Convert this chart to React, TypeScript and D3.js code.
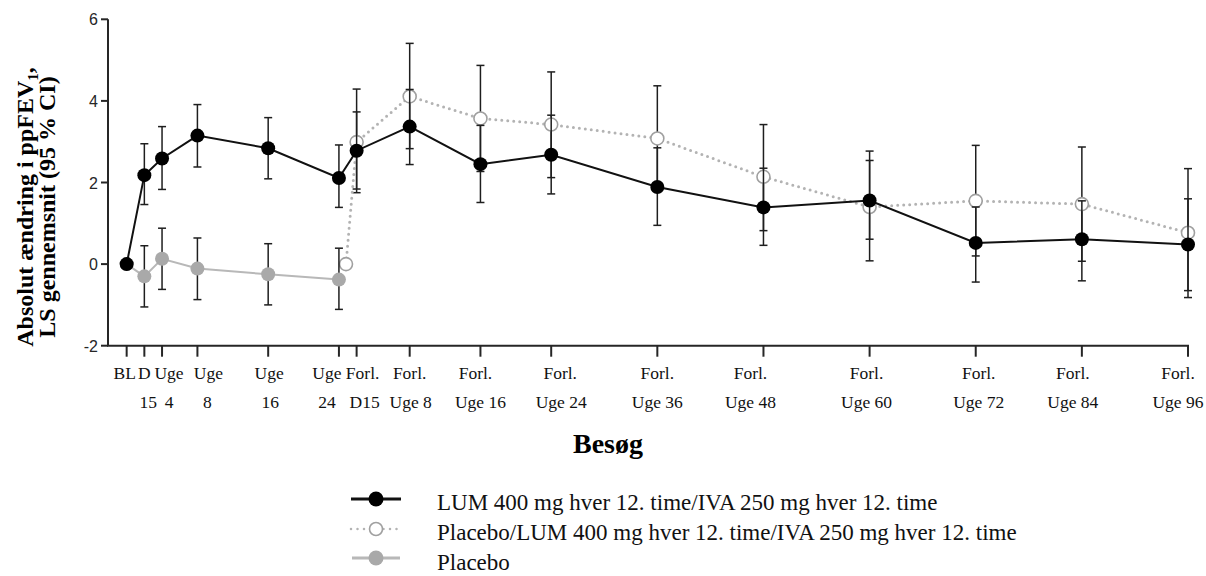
import React from "react";
import * as d3 from "d3";

// ---------- data ----------
const visitWeeks = [0, 2, 4, 8, 16, 24, 26, 32, 40, 48, 60, 72, 84, 96, 108, 120];
const tickLine1 = ["BL", "D", "Uge", "Uge", "Uge", "Uge", "Forl.", "Forl.", "Forl.", "Forl.", "Forl.", "Forl.", "Forl.", "Forl.", "Forl.", "Forl."];
const tickLine2 = ["", "15", "4", "8", "16", "24", "D15", "Uge 8", "Uge 16", "Uge 24", "Uge 36", "Uge 48", "Uge 60", "Uge 72", "Uge 84", "Uge 96"];
const yTicks = [-2, 0, 2, 4, 6];

const lumWeeks = visitWeeks;
const lumMean = [0, 2.18, 2.59, 3.15, 2.84, 2.11, 2.78, 3.37, 2.45, 2.68, 1.89, 1.39, 1.56, 0.52, 0.61, 0.48];
const lumLower = [null, 1.46, 1.83, 2.38, 2.09, 1.39, 1.84, 2.44, 1.51, 1.72, 0.95, 0.46, 0.61, -0.44, -0.41, -0.65];
const lumUpper = [null, 2.95, 3.37, 3.91, 3.59, 2.92, 3.73, 4.28, 3.40, 3.65, 2.85, 2.35, 2.54, 1.40, 1.55, 1.60];

const pboWeeks = [0, 2, 4, 8, 16, 24];
const pboMean = [0, -0.30, 0.13, -0.11, -0.25, -0.38];
const pboLower = [null, -1.05, -0.62, -0.87, -1.00, -1.11];
const pboUpper = [null, 0.45, 0.88, 0.64, 0.50, 0.39];

const swWeeks = [24.8, 26, 32, 40, 48, 60, 72, 84, 96, 108, 120];
const swMean = [0, 2.99, 4.11, 3.57, 3.42, 3.08, 2.14, 1.40, 1.55, 1.47, 0.77];
const swLower = [null, 1.75, 2.83, 2.27, 2.12, 1.78, 0.82, 0.08, 0.20, 0.07, -0.82];
const swUpper = [null, 4.29, 5.41, 4.87, 4.71, 4.37, 3.42, 2.77, 2.91, 2.87, 2.34];

const legendLabels = [
  "LUM 400 mg hver 12. time/IVA 250 mg hver 12. time",
  "Placebo/LUM 400 mg hver 12. time/IVA 250 mg hver 12. time",
  "Placebo",
];

// ---------- layout ----------
const W = 1206;
const H = 576;
const X0 = 108;
const X1 = 1188;
const Y0 = 345.7;
const Y1 = 19.3;
const labelDx1 = [-2, 0, 7, 11, 1, -12, 6, 0, -5, 9, 0, -13, -3, 3, -9, -10];
const labelDx2 = [0, 4, 7, 10, 2, -12, 8, 1, 0, 10, 0, -13, -3, 3, -9, -10];

const serif = "'Liberation Serif', 'Times New Roman', serif";
const sans = "'Liberation Sans', Arial, sans-serif";
const AXIS = "#262626";
const BAR = "#1e1e1e";

const x = d3.scaleLinear().domain([-2.11, 120]).range([X0, X1]);
const y = d3.scaleLinear().domain([-2, 6]).range([Y0, Y1]);

type Pt = { w: number; m: number; lo: number | null; hi: number | null };
const zip = (ws: number[], m: number[], lo: (number | null)[], hi: (number | null)[]): Pt[] =>
  ws.map((w, i) => ({ w, m: m[i], lo: lo[i], hi: hi[i] }));

const lum = zip(lumWeeks, lumMean, lumLower, lumUpper);
const pbo = zip(pboWeeks, pboMean, pboLower, pboUpper);
const sw = zip(swWeeks, swMean, swLower, swUpper);

const line = d3
  .line<Pt>()
  .x((d) => x(d.w))
  .y((d) => y(d.m));

function ErrorBars({ data }: { data: Pt[] }) {
  return (
    <g stroke={BAR} strokeWidth={1.5} fill="none">
      {data
        .filter((d) => d.lo !== null && d.hi !== null)
        .map((d, i) => {
          const cx = x(d.w);
          const yl = y(d.lo as number);
          const yh = y(d.hi as number);
          return (
            <g key={i}>
              <line x1={cx} x2={cx} y1={yh} y2={yl} />
              <line x1={cx - 4} x2={cx + 4} y1={yh} y2={yh} />
              <line x1={cx - 4} x2={cx + 4} y1={yl} y2={yl} />
            </g>
          );
        })}
    </g>
  );
}

export default function App() {
  return (
    <svg
      width={W}
      height={H}
      viewBox={`0 0 ${W} ${H}`}
      style={{ position: "fixed", left: 0, top: 0, background: "#fff" }}
    >
      <rect width={W} height={H} fill="#fff" />

      {/* axes */}
      <g stroke={AXIS} strokeWidth={2} fill="none">
        <line x1={X0} x2={X0} y1={Y1} y2={Y0} />
        <line x1={X0 - 1} x2={X1 + 1} y1={Y0} y2={Y0} />
        {yTicks.map((t) => (
          <line key={t} x1={X0 - 7} x2={X0} y1={y(t)} y2={y(t)} />
        ))}
        {visitWeeks.map((w, i) => (
          <line key={i} x1={x(w)} x2={x(w)} y1={Y0} y2={Y0 + 11} />
        ))}
      </g>
      <g fontFamily={sans} fontSize={16} fill={AXIS} textAnchor="end">
        {yTicks.map((t) => (
          <text key={t} x={X0 - 10} y={y(t) + 6}>
            {t}
          </text>
        ))}
      </g>
      <g fontFamily={serif} fontSize={17.5} fill="#111" textAnchor="middle">
        {visitWeeks.map((w, i) => (
          <g key={i}>
            <text x={x(w) + labelDx1[i]} y={379}>
              {tickLine1[i]}
            </text>
            <text x={x(w) + labelDx2[i]} y={408}>
              {tickLine2[i]}
            </text>
          </g>
        ))}
      </g>

      {/* axis titles */}
      <text x={608} y={453} fontFamily={serif} fontSize={28} fontWeight="bold" textAnchor="middle" fill="#000">
        Besøg
      </text>
      <g fontFamily={serif} fontSize={24} fontWeight="bold" fill="#000" textAnchor="middle">
        <text transform="translate(33,207) rotate(-90)">
          Absolut ændring i ppFEV
          <tspan fontSize={15} dy={5}>1</tspan>
          <tspan dy={-5}>,</tspan>
        </text>
        <text transform="translate(55,207) rotate(-90)">LS gennemsnit (95 % CI)</text>
      </g>

      {/* Placebo/LUM (switch) */}
      <ErrorBars data={sw} />
      <path
        d={line(sw) || ""}
        fill="none"
        stroke="#b3b3b3"
        strokeWidth={3}
        strokeDasharray="0 6"
        strokeLinecap="round"
      />
      {sw.map((d, i) => (
        <circle key={i} cx={x(d.w)} cy={y(d.m)} r={6.5} fill="#fff" stroke="#a0a0a0" strokeWidth={1.6} />
      ))}

      {/* Placebo */}
      <ErrorBars data={pbo} />
      <path d={line(pbo) || ""} fill="none" stroke="#b8b8b8" strokeWidth={2} />
      {pbo.map((d, i) => (
        <circle key={i} cx={x(d.w)} cy={y(d.m)} r={7} fill="#a9a9a9" />
      ))}

      {/* LUM/IVA */}
      <ErrorBars data={lum} />
      <path d={line(lum) || ""} fill="none" stroke="#111" strokeWidth={2} />
      {lum.map((d, i) => (
        <circle key={i} cx={x(d.w)} cy={y(d.m)} r={7} fill="#000" />
      ))}

      {/* legend */}
      <g>
        <line x1={351} x2={401} y1={499} y2={499} stroke="#111" strokeWidth={3} />
        <circle cx={376} cy={499} r={7.5} fill="#000" />
        <line
          x1={351}
          x2={401}
          y1={529}
          y2={529}
          stroke="#b3b3b3"
          strokeWidth={2.5}
          strokeDasharray="0 6.5"
          strokeLinecap="round"
        />
        <circle cx={376} cy={529} r={6.5} fill="#fff" stroke="#a0a0a0" strokeWidth={1.6} />
        <line x1={352} x2={400} y1={558} y2={558} stroke="#b8b8b8" strokeWidth={3} />
        <circle cx={376} cy={558} r={7.5} fill="#a9a9a9" />
        <g fontFamily={serif} fontSize={23} fill="#111">
          {legendLabels.map((t, i) => (
            <text key={i} x={437} y={510 + i * 30}>
              {t}
            </text>
          ))}
        </g>
      </g>
    </svg>
  );
}
